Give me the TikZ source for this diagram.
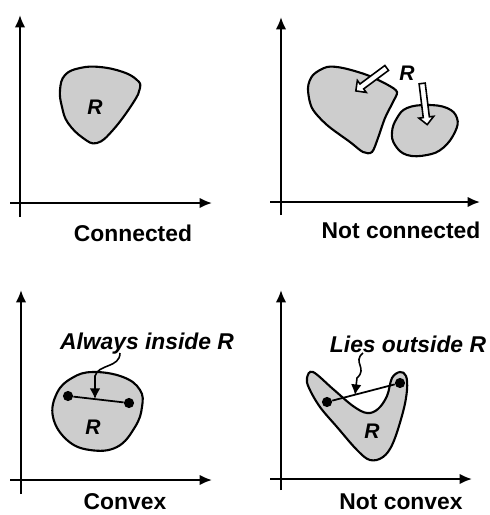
\documentclass[tikz,border=0pt]{standalone}
\usepackage{fontspec}
\setmainfont{Liberation Sans}
\usetikzlibrary{arrows.meta,shapes.arrows}
\definecolor{regiongray}{RGB}{205,205,205}

\begin{document}
\begin{tikzpicture}[
    x=0.02cm, y=-0.02cm,
    axis/.style={line width=1.2pt, -{Latex[length=7pt,width=6pt]}},
    region/.style={draw, line width=1.2pt, fill=regiongray},
    caption/.style={font=\fontsize{13}{15}\selectfont\bfseries},
    note/.style={font=\fontsize{13}{15}\selectfont\bfseries\itshape},
    rlabel/.style={font=\fontsize{12}{14}\selectfont\bfseries\itshape},
    hollow/.style={single arrow, draw, fill=white, line width=0.9pt, inner sep=1.3pt, single arrow head extend=2.5pt},
    endpt/.style={circle, fill, inner sep=0pt, minimum size=5.8pt},
    squig/.style={line width=0.9pt, -{Latex[length=6pt,width=6pt]}}
]
    \useasboundingbox (0,0) rectangle (490,515);

    % Connected
    \coordinate (xa1) at (10,203);  \coordinate (xb1) at (212,203);
    \coordinate (ya1) at (20,217);  \coordinate (yb1) at (20,15);
    \draw[axis] (xa1) -- (xb1);
    \draw[axis] (ya1) -- (yb1);
    \draw[region] plot[smooth cycle, tension=0.7] coordinates {(65,75) (80,68) (100,67) (123,72) (137,80) (140,88) (133,103) (113,130) (97,143) (83,138) (68,123) (62,107) (60,90)};
    \node[rlabel] (r1) at (95,107) {R};
    \node[caption] (cap1) at (133,233) {Connected};

    % Not connected
    \coordinate (xa2) at (270,202); \coordinate (xb2) at (480,202);
    \coordinate (ya2) at (281,215); \coordinate (yb2) at (281,17);
    \draw[axis] (xa2) -- (xb2);
    \draw[axis] (ya2) -- (yb2);
    \draw[region] plot[smooth cycle, tension=0.5] coordinates {(313,75) (327,67) (343,68) (367,75) (388,85) (397,92) (393,102) (385,118) (378,138) (372,152) (363,152) (350,142) (327,125) (312,108) (308,88)};
    \draw[region] plot[smooth cycle, tension=0.7] coordinates {(397,118) (407,108) (427,105) (447,108) (457,118) (455,132) (443,148) (427,155) (407,155) (395,145) (392,132)};
    \node[hollow, minimum height=0.77cm, rotate=216.6] (ha) at (372.5,78.5) {};
    \node[hollow, minimum height=0.83cm, rotate=277] (hb) at (424.5,102.5) {};
    \node[rlabel] (r2) at (407,73) {R};
    \node[caption] (cap2) at (401,230) {Not connected};

    % Convex
    \coordinate (xa3) at (10,480);  \coordinate (xb3) at (212,480);
    \coordinate (ya3) at (21,494);  \coordinate (yb3) at (21,290);
    \draw[axis] (xa3) -- (xb3);
    \draw[axis] (ya3) -- (yb3);
    \draw[region] plot[smooth cycle, tension=0.7] coordinates {(93,372) (123,377) (140,390) (142,407) (135,427) (117,447) (90,450) (67,440) (53,417) (57,393) (72,378)};
    \node[endpt] (p1) at (68,396) {};
    \node[endpt] (p2) at (129,403) {};
    \draw[line width=1pt] (p1) -- (p2);
    \node[rlabel] (r3) at (93,427) {R};
    \node[note] (n3) at (147,344) {Always inside R};
    \coordinate (s3) at (120,353);
    \coordinate (t3) at (95,399);
    \draw[squig] (s3) .. controls (120,368) and (98,364) .. (95,376) -- (t3);
    \node[caption] (cap3) at (125,502) {Convex};

    % Not convex
    \coordinate (xa4) at (270,479); \coordinate (xb4) at (472,479);
    \coordinate (ya4) at (281,490); \coordinate (yb4) at (281,290);
    \draw[axis] (xa4) -- (xb4);
    \draw[axis] (ya4) -- (yb4);
    \draw[region] plot[smooth cycle, tension=0.6] coordinates {(313,372) (333,389) (353,406) (367,413) (378,409) (387,396) (392,378) (400,372) (406,376) (407,390) (403,412) (393,443) (383,457) (370,460) (357,450) (337,427) (320,407) (309,388) (307,378)};
    \node[endpt] (q1) at (327,402) {};
    \node[endpt] (q2) at (400,383) {};
    \draw[line width=1pt] (q1) -- (q2);
    \node[rlabel] (r4) at (372,431) {R};
    \node[note] (n4) at (408,344) {Lies outside R};
    \coordinate (s4) at (363,353);
    \coordinate (t4) at (355,395);
    \draw[squig] (s4) .. controls (352,362) and (368,368) .. (357,378) -- (t4);
    \node[caption] (cap4) at (401,502) {Not convex};
\end{tikzpicture}
\end{document}
